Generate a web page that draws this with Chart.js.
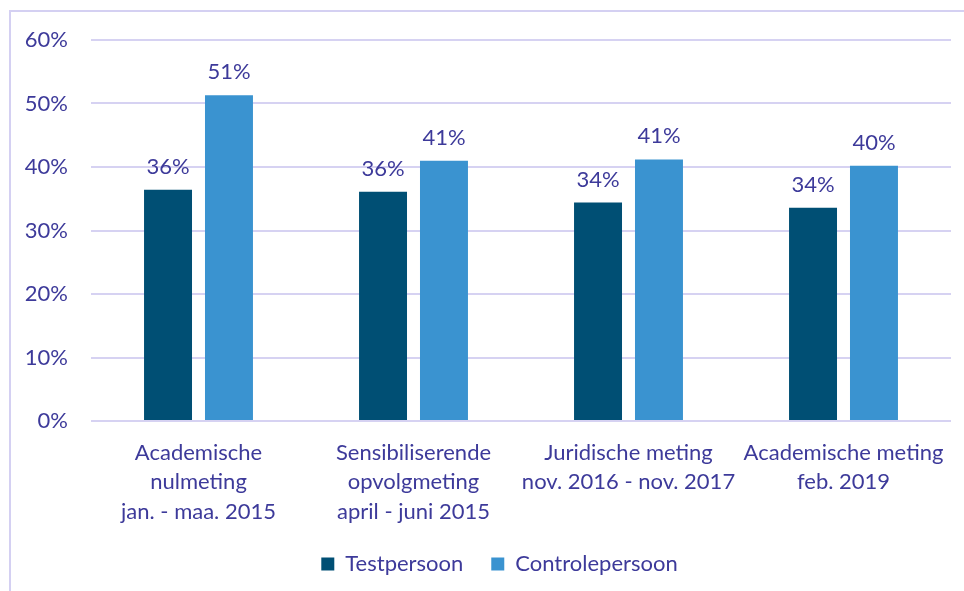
<!DOCTYPE html>
<html>
<head>
<meta charset="utf-8">
<script src="https://cdn.jsdelivr.net/npm/chart.js@4"></script>
<style>
  html, body { margin: 0; padding: 0; background: #fff; overflow: hidden; }
  #frame {
    position: absolute; left: 9px; top: 10px; width: 980px; height: 620px;
    border: 2px solid #d4d0f2; box-sizing: border-box;
  }
  #wrap { position: absolute; left: 0; top: 0; width: 964px; height: 591px; }
</style>
</head>
<body>
<div id="frame"></div>
<div id="wrap"><canvas id="chart" width="964" height="591"></canvas></div>
<script>
// Chart data
const categories = [
  ['Academische', 'nulmeting', 'jan. - maa. 2015'],
  ['Sensibiliserende', 'opvolgmeting', 'april - juni 2015'],
  ['Juridische meting', 'nov. 2016 - nov. 2017'],
  ['Academische meting', 'feb. 2019']
];
const seriesNames = ['Testpersoon', 'Controlepersoon'];
const testValues = [36.4, 36.1, 34.4, 33.6];
const controlValues = [51.3, 41.0, 41.2, 40.2];
const yTicks = [0, 10, 20, 30, 40, 50, 60];

const textColor = '#3d3a9a';
const gridColor = '#d6d2f2';
const fontFamily = "Lato, 'Open Sans', sans-serif";
const fontSize = 22;

// Draw the percentage above each bar
const valueLabels = {
  id: 'valueLabels',
  afterDatasetsDraw(chart) {
    const ctx = chart.ctx;
    ctx.save();
    ctx.font = `${fontSize}px ${fontFamily}`;
    ctx.fillStyle = textColor;
    ctx.textAlign = 'center';
    ctx.textBaseline = 'alphabetic';
    chart.data.datasets.forEach((ds, i) => {
      chart.getDatasetMeta(i).data.forEach((bar, j) => {
        ctx.fillText(Math.round(ds.data[j]) + '%', bar.x, bar.y - 16);
      });
    });
    ctx.restore();
  }
};

// Nudge the legend a bit to the right, as in the original
const legendShift = {
  id: 'legendShift',
  afterLayout(chart) {
    if (chart.legend) {
      chart.legend.left += 24;
      chart.legend.right += 24;
    }
  }
};

const ctx = document.getElementById('chart').getContext('2d');
new Chart(ctx, {
  type: 'bar',
  data: {
    labels: categories,
    datasets: [
      {
        label: seriesNames[0],
        data: testValues,
        backgroundColor: '#004f74',
        categoryPercentage: 0.567,
        barPercentage: 0.787
      },
      {
        label: seriesNames[1],
        data: controlValues,
        backgroundColor: '#3a93d0',
        categoryPercentage: 0.567,
        barPercentage: 0.787
      }
    ]
  },
  options: {
    responsive: false,
    animation: false,
    layout: { padding: { top: 40, right: 13, bottom: 6, left: 0 } },
    scales: {
      x: {
        grid: { display: false, drawTicks: false },
        border: { display: false },
        ticks: {
          color: textColor,
          font: { family: fontFamily, size: fontSize, lineHeight: 1.34 },
          maxRotation: 0,
          autoSkip: false,
          padding: 17
        },
        afterFit(scale) { scale.height = 104; }
      },
      y: {
        min: 0,
        max: 60,
        afterBuildTicks(scale) { scale.ticks = yTicks.map(v => ({ value: v })); },
        grid: { color: gridColor, lineWidth: 2, drawTicks: false },
        border: { display: false },
        ticks: {
          color: textColor,
          font: { family: fontFamily, size: fontSize },
          padding: 23,
          callback: v => v + '%'
        },
        afterFit(scale) { scale.width = 91; }
      }
    },
    plugins: {
      legend: {
        position: 'bottom',
        labels: {
          color: textColor,
          font: { family: fontFamily, size: fontSize },
          boxWidth: 13,
          boxHeight: 13,
          padding: 28
        }
      },
      tooltip: { enabled: false }
    }
  },
  plugins: [valueLabels, legendShift]
});
</script>
</body>
</html>
